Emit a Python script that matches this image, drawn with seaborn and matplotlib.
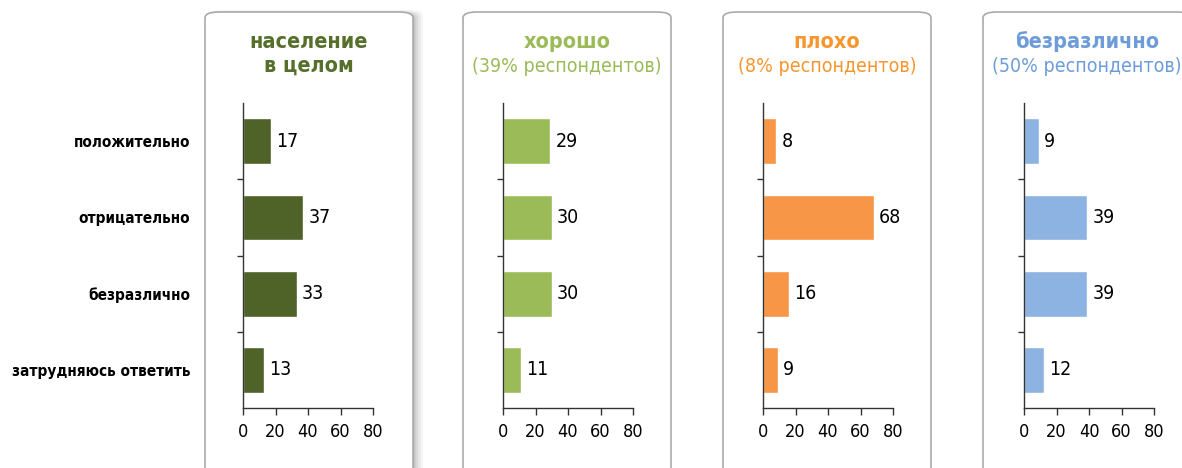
import matplotlib
matplotlib.use("Agg")
import matplotlib.pyplot as plt
from matplotlib.patches import FancyBboxPatch
import seaborn as sns
import pandas as pd

categories = ["положительно", "отрицательно", "безразлично", "затрудняюсь ответить"]
population = [17, 37, 33, 13]
good = [29, 30, 30, 11]
bad = [8, 68, 16, 9]
indifferent = [9, 39, 39, 12]

titles = ["население\nв целом", "хорошо", "плохо", "безразлично"]
subtitles = [None, "(39% респондентов)", "(8% респондентов)", "(50% респондентов)"]
bar_colors = ["#4F6228", "#9BBB59", "#F79646", "#8DB3E2"]
title_colors = ["#56702C", "#9BBB59", "#F7962F", "#6E9CD8"]
x_ticks = [0, 20, 40, 60, 80]

sns.set_style("white")
plt.rcParams["font.family"] = ["DejaVu Sans"]
plt.rcParams["font.stretch"] = "condensed"

W, H = 1182, 468
fig = plt.figure(figsize=(W / 100, H / 100), dpi=100)

series = [population, good, bad, indifferent]
box_left = [205, 463, 723, 983]
axis_left = [243, 503, 763, 1024]
box_w = 208

def fx(px):
    return px / W

def fy(py):
    return 1 - py / H

for i, vals in enumerate(series):
    bl = box_left[i]
    # panel frame; the first one gets a soft drop shadow
    if i == 0:
        for k, a in enumerate([0.08, 0.11, 0.15, 0.22]):
            off = 7 - k * 1.5
            shadow = FancyBboxPatch((fx(bl - 1 + (4 - k)), fy(480)), fx(box_w + off),
                                    fy(10 + k) - fy(480),
                                    boxstyle="round,pad=0,rounding_size=0.012",
                                    transform=fig.transFigure, facecolor="#808080",
                                    edgecolor="none", alpha=a, zorder=0)
            fig.patches.append(shadow)
    frame = FancyBboxPatch((fx(bl), fy(480)), fx(box_w), fy(12) - fy(480),
                           boxstyle="round,pad=0,rounding_size=0.012",
                           transform=fig.transFigure, facecolor="white",
                           edgecolor="#AAAAAA", linewidth=1.2, zorder=1)
    fig.patches.append(frame)

    cx = fx(bl + box_w / 2)
    if subtitles[i] is None:
        fig.text(cx, fy(54), titles[i], ha="center", va="center", fontsize=15.5,
                 fontweight="bold", color=title_colors[i], linespacing=1.2, zorder=3)
    else:
        fig.text(cx, fy(42), titles[i], ha="center", va="center", fontsize=15.5,
                 fontweight="bold", color=title_colors[i], zorder=3)
        fig.text(cx, fy(66), subtitles[i], ha="center", va="center", fontsize=14,
                 color=title_colors[i], zorder=3)

    ax = fig.add_axes([fx(axis_left[i]), fy(408), fx(130), fy(103) - fy(408)])
    ax.set_zorder(2)
    ax.patch.set_alpha(0)
    df = pd.DataFrame({"cat": categories, "val": vals})
    sns.barplot(data=df, x="val", y="cat", orient="h", color=bar_colors[i],
                saturation=1, width=0.6, ax=ax)
    ax.set_xlim(0, 80)
    ax.set_ylim(3.5, -0.5)
    ax.set_xticks(x_ticks)
    ax.set_xticklabels([str(t) for t in x_ticks], fontsize=13)
    ax.set_xlabel("")
    ax.set_ylabel("")
    for s in ["top", "right"]:
        ax.spines[s].set_visible(False)
    for s in ["left", "bottom"]:
        ax.spines[s].set_color("#333333")
        ax.spines[s].set_linewidth(1.0)
    ax.tick_params(axis="x", bottom=True, direction="out", length=5, width=1,
                   color="#333333", pad=6, labelcolor="black")
    # category boundaries as y tick marks
    ax.set_yticks(range(len(categories)))
    ax.set_yticks([0.5, 1.5, 2.5], minor=True)
    ax.tick_params(axis="y", which="major", left=False, length=0, pad=38,
                   labelcolor="black")
    ax.tick_params(axis="y", which="minor", left=True, length=4, width=1,
                   color="#333333", direction="out")
    if i == 0:
        ax.set_yticklabels(categories, fontsize=11, fontweight="bold")
    else:
        ax.set_yticklabels([])
    for j, v in enumerate(vals):
        ax.text(v + 3.3, j, str(v), va="center", ha="left", fontsize=14, color="black")

fig.savefig("out.png", dpi=100)
